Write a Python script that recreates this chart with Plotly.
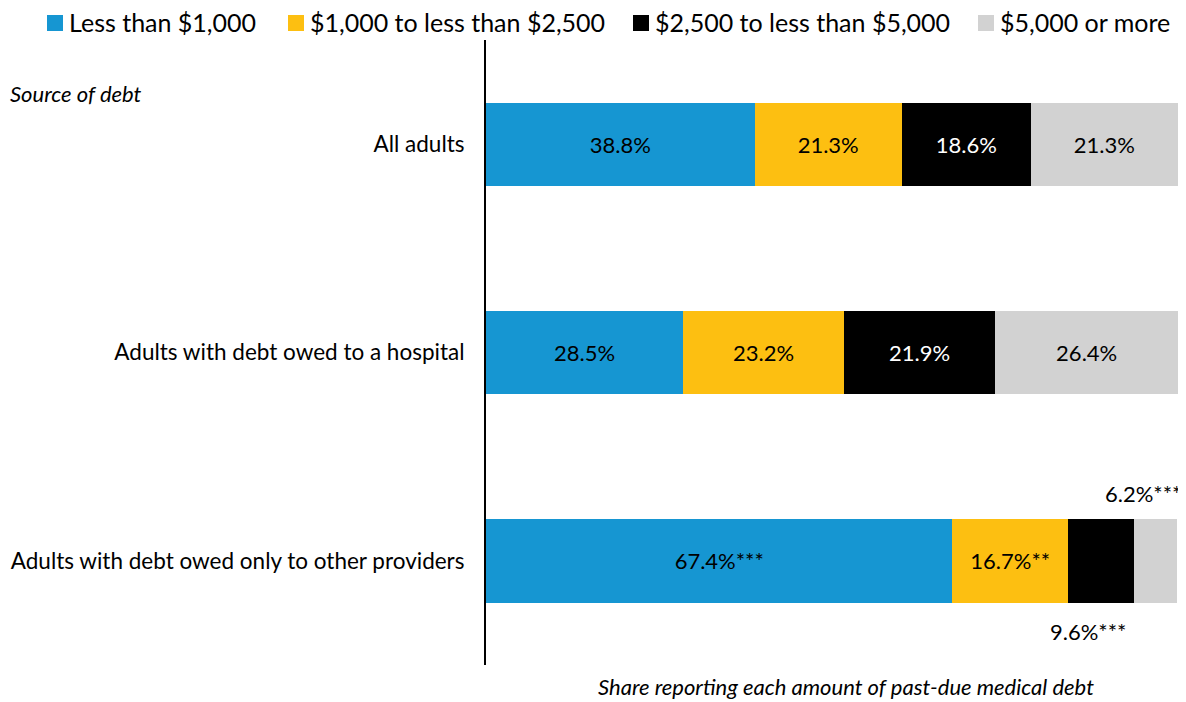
import plotly.graph_objects as go

groups = ['All adults', 'Adults with debt owed to a hospital',
          'Adults with debt owed only to other providers']
bins = ['Less than $1,000', '$1,000 to less than $2,500',
        '$2,500 to less than $5,000', '$5,000 or more']
colors = ['#1696d2', '#fdbf11', '#000000', '#d2d2d2']
text_colors = ['#000000', '#000000', '#ffffff', '#000000']

values = [
    [38.8, 28.5, 67.4],
    [21.3, 23.2, 16.7],
    [18.6, 21.9, 9.6],
    [21.3, 26.4, 6.2],
]
stars = [
    ['', '', '***'],
    ['', '', '**'],
    ['', '', '***'],
    ['', '', '***'],
]
# last row's two small segments are labelled outside the bar
outside = {(2, 2): 'below', (3, 2): 'above'}

FONT = 'Lato, Noto Sans, sans-serif'
# the page body has an 8px margin, so the figure is a bit smaller than the window
OFF = 8
W, H = 1186 - OFF, 702 - OFF
L, T = 486 - OFF, 40 - OFF
R, B = W - (1178 - OFF), H - (665 - OFF)
PW, PH = W - L - R, H - T - B


def px(x):
    # x in window pixels -> paper fraction
    return (x - OFF - L) / PW


def py(y):
    return 1 - (y - OFF - T) / PH


def fmt(v, s):
    return f'{v:.1f}%' + s


fig = go.Figure()
for i, name in enumerate(bins):
    labels = ['' if (i, j) in outside else fmt(v, stars[i][j])
              for j, v in enumerate(values[i])]
    fig.add_trace(go.Bar(
        y=groups, x=values[i], name=name, orientation='h',
        marker=dict(color=colors[i], line=dict(width=0)),
        text=labels, textposition='inside', insidetextanchor='middle',
        textfont=dict(color=text_colors[i], size=22, family=FONT),
        hoverinfo='skip', width=0.4, showlegend=False,
    ))

# outside labels for the small segments
for (i, j), side in outside.items():
    start = sum(values[k][j] for k in range(i))
    label = fmt(values[i][j], stars[i][j])
    if side == 'below':
        fig.add_annotation(
            x=start + values[i][j] / 2, y=groups[j], text=label,
            showarrow=False, xanchor='center', yshift=-71, xshift=-13,
            font=dict(size=22, color='#000000', family=FONT),
        )
    else:
        fig.add_annotation(
            x=start + values[i][j], y=groups[j], text=label,
            showarrow=False, xanchor='right', yshift=67, xshift=6,
            font=dict(size=22, color='#000000', family=FONT),
        )

# legend drawn by hand so it stays on one line across the full width
legend_x = [47, 288, 633, 978]
for name, color, lx in zip(bins, colors, legend_x):
    fig.add_shape(
        type='rect', xref='paper', yref='paper',
        x0=px(lx), x1=px(lx + 16), y0=py(31), y1=py(15),
        fillcolor=color, line=dict(width=0),
    )
    fig.add_annotation(
        x=px(lx + 20), y=py(22), xref='paper', yref='paper', text=name,
        showarrow=False, xanchor='left', yanchor='middle',
        font=dict(size=25, color='#000000', family=FONT),
    )

fig.add_annotation(
    x=px(8), y=py(93), xref='paper', yref='paper',
    text='<i>Source of debt</i>', showarrow=False,
    xanchor='left', yanchor='middle',
    font=dict(size=22, color='#000000', family=FONT),
)
fig.add_annotation(
    x=px(846), y=py(687), xref='paper', yref='paper',
    text='<i>Share reporting each amount of past-due medical debt</i>',
    showarrow=False, xanchor='center', yanchor='middle',
    font=dict(size=22, color='#000000', family=FONT),
)

fig.update_layout(
    width=W, height=H,
    barmode='stack',
    plot_bgcolor='white', paper_bgcolor='white',
    margin=dict(l=L, r=R, t=T, b=B, autoexpand=False),
    font=dict(family=FONT, size=22.5, color='#000000'),
    showlegend=False,
    xaxis=dict(range=[0, 100], visible=False, automargin=False),
    yaxis=dict(
        autorange='reversed', showline=True, linecolor='#000000', linewidth=2,
        ticks='', ticklabelstandoff=15, showgrid=False, automargin=False,
        tickfont=dict(size=22.5, family=FONT),
    ),
)

fig.write_html('out.html')
